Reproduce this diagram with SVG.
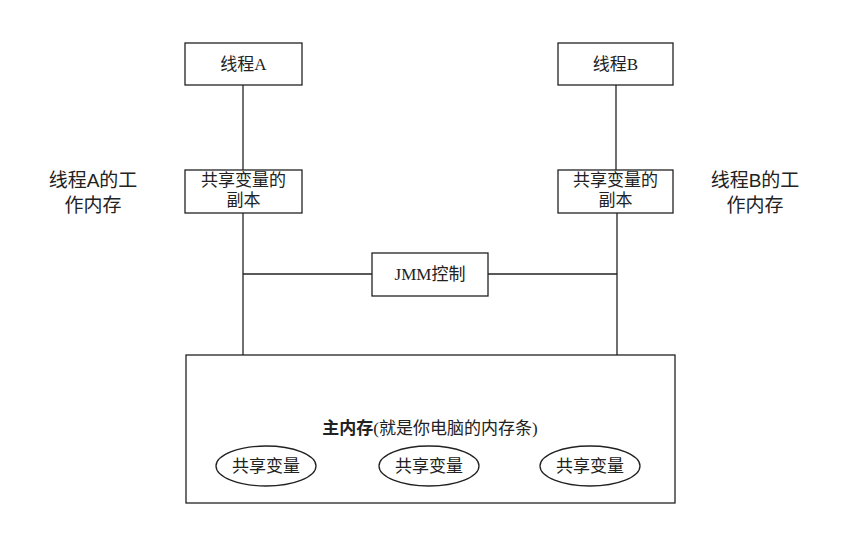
<svg xmlns="http://www.w3.org/2000/svg" width="856" height="547" viewBox="0 0 856 547">
<style>
.box{fill:#fff;stroke:#222;stroke-width:1.3}
.ln{stroke:#222;stroke-width:1.3;fill:none}
text{font-family:"Liberation Serif","Noto Sans CJK SC",serif;fill:#222;text-anchor:middle;dominant-baseline:central}
.t{font-size:17px}
.side{font-size:19px;font-family:"Liberation Sans","Noto Sans CJK SC",sans-serif}
</style>
<rect width="856" height="547" fill="#fff"/>
<g id="connectors">
<line class="ln" x1="243" y1="85" x2="243" y2="170"/>
<line class="ln" x1="616" y1="85" x2="616" y2="170"/>
<line class="ln" x1="243" y1="213" x2="243" y2="355"/>
<line class="ln" x1="617" y1="213" x2="617" y2="355"/>
<line class="ln" x1="243" y1="274" x2="372" y2="274"/>
<line class="ln" x1="488" y1="274" x2="617" y2="274"/>
</g>
<g id="threadA"><rect class="box" x="185" y="43" width="117" height="42"/><text class="t" x="243.5" y="64">线程A</text></g>
<g id="threadB"><rect class="box" x="558" y="43" width="115" height="42"/><text class="t" x="615.5" y="64">线程B</text></g>
<g id="copyA"><rect class="box" x="185" y="170" width="117" height="43"/><text class="t" x="243.5" y="180">共享变量的</text><text class="t" x="243.5" y="200">副本</text></g>
<g id="copyB"><rect class="box" x="558" y="170" width="115" height="43"/><text class="t" x="615.5" y="180">共享变量的</text><text class="t" x="615.5" y="200">副本</text></g>
<g id="labelA"><text class="side" x="93" y="180">线程A的工</text><text class="side" x="93" y="205">作内存</text></g>
<g id="labelB"><text class="side" x="755" y="180">线程B的工</text><text class="side" x="755" y="205">作内存</text></g>
<g id="jmm"><rect class="box" x="372" y="253" width="116" height="43"/><text class="t" x="430" y="274">JMM控制</text></g>
<g id="mainMemory"><rect class="box" x="186" y="355" width="489" height="148"/>
<text x="430" y="428" style="font-size:17px"><tspan font-weight="bold">主内存</tspan>(就是你电脑的内存条)</text>
</g>
<g id="var1"><ellipse class="box" cx="266" cy="466" rx="50" ry="20"/><text class="t" x="266" y="466">共享变量</text></g>
<g id="var2"><ellipse class="box" cx="429" cy="466" rx="50" ry="20"/><text class="t" x="429" y="466">共享变量</text></g>
<g id="var3"><ellipse class="box" cx="590" cy="466" rx="50" ry="20"/><text class="t" x="590" y="466">共享变量</text></g>
</svg>
